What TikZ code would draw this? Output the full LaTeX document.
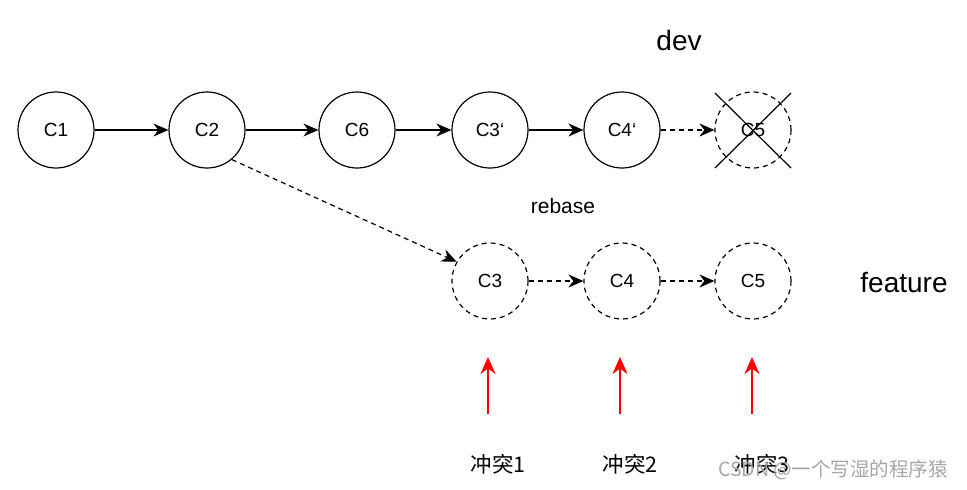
\documentclass[tikz,border=0pt]{standalone}
\usepackage{fontspec}
\setmainfont{Liberation Sans}
\newfontfamily\cjk{Noto Sans CJK SC}
\usetikzlibrary{arrows.meta,calc}
\begin{document}
\begin{tikzpicture}[x=1pt,y=-1pt,
  commit/.style={circle,draw,line width=1.2pt,minimum size=76pt,inner sep=0pt,font=\fontsize{19}{21}\selectfont},
  ghost/.style={commit,dashed,dash pattern=on 5pt off 4pt},
  conn/.style={line width=1.2pt,-{Stealth[length=15pt,width=13pt]}},
  dconn/.style={conn,dash pattern=on 5pt off 4pt},
  conflict/.style={red,line width=1.6pt,-{Stealth[length=17pt,width=15pt]}},
  lbl/.style={font=\fontsize{21.5}{23}\selectfont\cjk}]
\useasboundingbox (0,0) rectangle (967,490);
\node[commit] (c1) at (56,130) {C1};
\node[commit] (c2) at (207,130) {C2};
\node[commit] (c6) at (357,130) {C6};
\node[commit] (c3p) at (490,130) {C3‘};
\node[commit] (c4p) at (622,130) {C4‘};
\node[ghost] (c5p) at (753,130) {C5};
\node[ghost] (c3) at (490,281) {C3};
\node[ghost] (c4) at (622,281) {C4};
\node[ghost] (c5) at (753,281) {C5};
\draw[line width=1.2pt] ($(c5p.center)+(-38,-37)$) -- ($(c5p.center)+(38,38)$);
\draw[line width=1.2pt] ($(c5p.center)+(38,-37)$) -- ($(c5p.center)+(-38,38)$);
\draw[conn] (c1) -- (c2);
\draw[conn] (c2) -- (c6);
\draw[conn] (c6) -- (c3p);
\draw[conn] (c3p) -- (c4p);
\draw[dconn] (c4p) -- (c5p);
\draw[dconn] (c3) -- (c4);
\draw[dconn] (c4) -- (c5);
\draw[dconn] (c2.-50) -- (c3.150);
\node[font=\fontsize{28}{30}\selectfont] (dev) at (679,40) {dev};
\node[font=\fontsize{28}{30}\selectfont] (feat) at (904,283) {feature};
\node[font=\fontsize{21}{23}\selectfont] (rb) at (563,206) {rebase};
\node[lbl] (k1) at (498,464) {冲突1};
\node[lbl] (k2) at (630,464) {冲突2};
\node[lbl] (k3) at (762,464) {冲突3};
\coordinate (a1) at (488,414); \coordinate (b1) at (488,357);
\coordinate (a2) at (620,414); \coordinate (b2) at (620,357);
\coordinate (a3) at (752,414); \coordinate (b3) at (752,357);
\draw[conflict] (a1) -- (b1);
\draw[conflict] (a2) -- (b2);
\draw[conflict] (a3) -- (b3);
\node[gray!70,font=\fontsize{19.5}{21}\selectfont\cjk] (wm) at (833,470) {CSDN @一个写湿的程序猿};
\end{tikzpicture}
\end{document}
